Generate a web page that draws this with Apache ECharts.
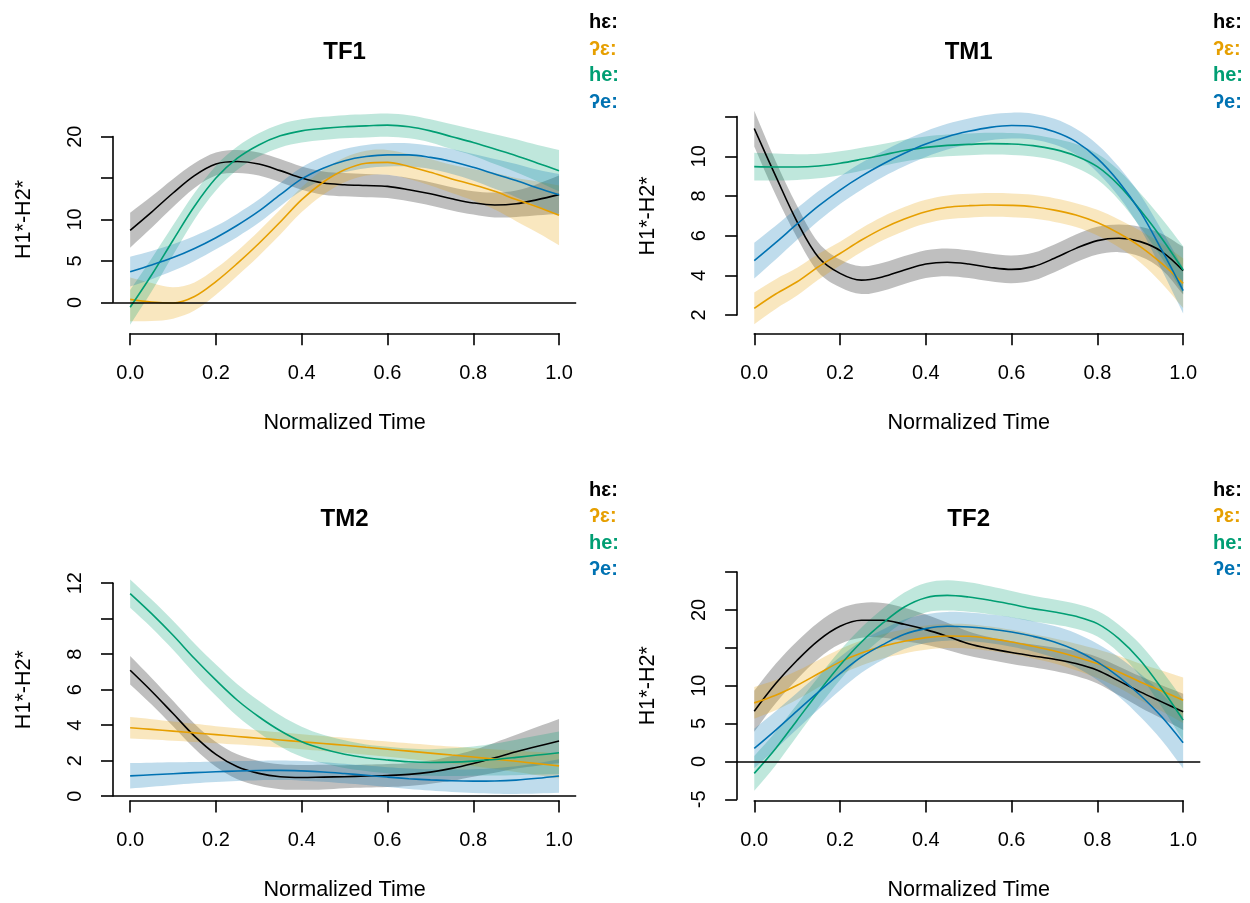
<!DOCTYPE html>
<html>
<head>
<meta charset="utf-8">
<script src="https://cdn.jsdelivr.net/npm/echarts@6/dist/echarts.min.js"></script>
<style>
html,body{margin:0;padding:0;background:#ffffff;}
#chart{width:1250px;height:903px;}
</style>
</head>
<body>
<div id="chart"></div>
<script>
// ---------------- DATA ----------------
const timePoints = [0,0.05,0.1,0.15,0.2,0.25,0.3,0.35,0.4,0.45,0.5,0.55,0.6,0.65,0.7,0.75,0.8,0.85,0.9,0.95,1];
const groupNames = ['hɛ:', 'ʔɛ:', 'he:', 'ʔe:'];
const groupColors = ['#000000', '#E69F00', '#009E73', '#0072B2'];
const bandColors = ['rgba(0,0,0,0.25)', 'rgba(230,159,0,0.25)', 'rgba(0,158,115,0.25)', 'rgba(0,114,178,0.25)'];
const panelTitles = ['TF1', 'TM1', 'TM2', 'TF2'];
const xTickValues = [0, 0.2, 0.4, 0.6, 0.8, 1.0];
const xTickLabels = ['0.0', '0.2', '0.4', '0.6', '0.8', '1.0'];
const yAxisName = 'H1*-H2*';
const xAxisName = 'Normalized Time';

const TF1_yTicks = [0, 5, 10, 15, 20];
const TF1_yLabels = ['0', '5', '10', '', '20'];
const TM1_yTicks = [2, 4, 6, 8, 10, 12];
const TM1_yLabels = ['2', '4', '6', '8', '10', ''];
const TM2_yTicks = [0, 2, 4, 6, 8, 10, 12];
const TM2_yLabels = ['0', '2', '4', '6', '8', '', '12'];
const TF2_yTicks = [-5, 0, 5, 10, 15, 20, 25];
const TF2_yLabels = ['-5', '0', '5', '10', '', '20', ''];

// TF1
const TF1_hE_fit = [8.7,10.9,13.2,15.3,16.7,17.0,16.7,15.9,15.0,14.4,14.2,14.1,14.0,13.6,13.1,12.5,12.0,11.75,11.9,12.4,13.0];
const TF1_hE_lo  = [6.6,9.0,11.5,13.8,15.3,15.6,15.3,14.5,13.6,13.0,12.8,12.7,12.6,12.2,11.7,11.1,10.6,10.25,10.3,10.5,10.7];
const TF1_hE_hi  = [10.8,12.8,14.9,16.8,18.1,18.4,18.1,17.3,16.4,15.8,15.6,15.5,15.4,15.0,14.5,13.9,13.4,13.25,13.5,14.3,15.3];
const TF1_qE_fit = [0.36,0.04,-0.08,0.7,2.5,4.7,7.1,9.7,12.4,14.5,16.0,16.8,16.9,16.4,15.7,14.9,14.2,13.4,12.4,11.5,10.5];
const TF1_qE_lo  = [-2.3,-2.26,-1.98,-1.0,0.9,3.2,5.6,8.2,10.9,13.0,14.5,15.3,15.4,14.9,14.1,13.2,12.3,11.2,9.8,8.4,6.9];
const TF1_qE_hi  = [3.0,2.34,1.82,2.4,4.1,6.2,8.6,11.2,13.9,16.0,17.5,18.3,18.4,17.9,17.3,16.6,16.1,15.6,15.0,14.6,14.1];
const TF1_he_fit = [-0.6,3.3,7.5,11.6,15.0,17.4,19.0,20.1,20.7,21.0,21.2,21.3,21.4,21.2,20.7,20.0,19.3,18.5,17.7,16.8,15.9];
const TF1_he_lo  = [-2.7,1.3,5.7,10.0,13.5,16.0,17.6,18.7,19.3,19.6,19.8,19.9,20.0,19.8,19.3,18.5,17.7,16.7,15.7,14.6,13.4];
const TF1_he_hi  = [1.5,5.3,9.3,13.2,16.5,18.8,20.4,21.5,22.1,22.4,22.6,22.7,22.8,22.6,22.1,21.5,20.9,20.3,19.7,19.0,18.4];
const TF1_qe_fit = [3.7,4.5,5.4,6.5,7.8,9.3,11.0,13.0,14.9,16.2,17.1,17.6,17.8,17.8,17.5,17.0,16.3,15.5,14.7,13.8,13.0];
const TF1_qe_lo  = [1.9,2.8,3.8,5.0,6.4,7.9,9.6,11.6,13.5,14.8,15.7,16.2,16.4,16.4,16.1,15.5,14.7,13.7,12.7,11.6,10.5];
const TF1_qe_hi  = [5.5,6.2,7.0,8.0,9.2,10.7,12.4,14.4,16.3,17.6,18.5,19.0,19.2,19.2,18.9,18.5,17.9,17.3,16.7,16.0,15.5];

// TM1
const TM1_hE_fit = [11.4,9.0,6.7,4.9,4.1,3.76,3.93,4.27,4.57,4.66,4.57,4.4,4.3,4.44,4.86,5.36,5.75,5.87,5.7,5.2,4.24];
const TM1_hE_lo  = [10.5,8.05,5.9,4.15,3.4,3.06,3.23,3.57,3.87,3.96,3.87,3.7,3.6,3.74,4.16,4.66,5.05,5.17,4.95,4.3,3.04];
const TM1_hE_hi  = [12.3,9.75,7.5,5.65,4.8,4.46,4.63,4.97,5.27,5.36,5.27,5.1,5.0,5.14,5.56,6.06,6.45,6.57,6.45,6.1,5.44];
const TM1_qE_fit = [2.34,3.06,3.68,4.44,5.1,5.78,6.37,6.84,7.21,7.43,7.51,7.55,7.53,7.46,7.29,7.04,6.66,6.12,5.45,4.6,3.6];
const TM1_qE_lo  = [1.54,2.31,2.98,3.79,4.5,5.18,5.77,6.24,6.61,6.83,6.91,6.95,6.93,6.86,6.69,6.44,6.01,5.42,4.65,3.6,2.35];
const TM1_qE_hi  = [3.14,3.81,4.38,5.09,5.7,6.38,6.97,7.44,7.81,8.03,8.11,8.15,8.13,8.06,7.89,7.64,7.31,6.82,6.25,5.6,4.85];
const TM1_he_fit = [9.48,9.46,9.46,9.51,9.65,9.85,10.07,10.29,10.45,10.55,10.6,10.64,10.62,10.54,10.35,10.02,9.48,8.55,7.29,5.87,4.27];
const TM1_he_lo  = [8.78,8.78,8.81,8.89,9.05,9.27,9.52,9.74,9.9,10.0,10.05,10.09,10.07,9.99,9.8,9.42,8.83,7.8,6.44,4.87,3.07];
const TM1_he_hi  = [10.18,10.14,10.11,10.13,10.25,10.43,10.62,10.84,11.0,11.1,11.15,11.19,11.17,11.09,10.9,10.62,10.13,9.3,8.14,6.87,5.47];
const TM1_qe_fit = [4.74,5.65,6.59,7.5,8.3,9.0,9.61,10.15,10.62,10.99,11.26,11.46,11.55,11.5,11.24,10.74,9.9,8.72,7.21,5.28,3.23];
const TM1_qe_lo  = [3.84,4.8,5.79,6.75,7.6,8.32,8.96,9.5,9.97,10.34,10.61,10.81,10.9,10.85,10.59,10.09,9.2,7.97,6.36,4.28,2.08];
const TM1_qe_hi  = [5.64,6.5,7.39,8.25,9.0,9.68,10.26,10.8,11.27,11.64,11.91,12.11,12.2,12.15,11.89,11.39,10.6,9.47,8.06,6.28,4.38];

// TM2
const TM2_hE_fit = [7.09,5.91,4.65,3.38,2.35,1.65,1.28,1.09,1.05,1.07,1.09,1.13,1.16,1.22,1.35,1.56,1.84,2.16,2.5,2.81,3.1];
const TM2_hE_lo  = [6.29,5.16,3.93,2.68,1.65,0.95,0.58,0.39,0.35,0.37,0.44,0.48,0.51,0.57,0.7,0.86,1.09,1.31,1.55,1.71,1.85];
const TM2_hE_hi  = [7.89,6.66,5.37,4.08,3.05,2.35,1.98,1.79,1.75,1.77,1.74,1.78,1.81,1.87,2.0,2.26,2.59,3.01,3.45,3.91,4.35];
const TM2_qE_fit = [3.85,3.76,3.66,3.56,3.46,3.36,3.26,3.16,3.06,2.96,2.86,2.75,2.64,2.53,2.42,2.31,2.2,2.08,1.96,1.83,1.7];
const TM2_qE_lo  = [3.25,3.19,3.12,3.05,2.98,2.9,2.82,2.73,2.64,2.54,2.44,2.33,2.21,2.09,1.96,1.83,1.69,1.53,1.36,1.18,1.0];
const TM2_qE_hi  = [4.45,4.33,4.2,4.07,3.94,3.82,3.7,3.59,3.48,3.38,3.28,3.17,3.07,2.97,2.88,2.79,2.71,2.63,2.56,2.48,2.4];
const TM2_he_fit = [11.41,10.28,9.06,7.75,6.53,5.4,4.47,3.68,3.06,2.65,2.36,2.16,2.03,1.93,1.89,1.91,1.97,2.06,2.18,2.31,2.44];
const TM2_he_lo  = [10.61,9.48,8.24,6.9,5.65,4.5,3.57,2.8,2.21,1.85,1.58,1.41,1.28,1.18,1.14,1.13,1.15,1.16,1.18,1.21,1.24];
const TM2_he_hi  = [12.21,11.08,9.88,8.6,7.41,6.3,5.37,4.56,3.91,3.45,3.14,2.91,2.78,2.68,2.64,2.69,2.79,2.96,3.18,3.41,3.64];
const TM2_qe_fit = [1.14,1.2,1.26,1.32,1.37,1.41,1.44,1.45,1.42,1.36,1.27,1.17,1.07,0.98,0.91,0.86,0.84,0.85,0.9,1.0,1.13];
const TM2_qe_lo  = [0.42,0.52,0.62,0.72,0.79,0.85,0.89,0.9,0.87,0.81,0.72,0.62,0.51,0.4,0.31,0.23,0.17,0.13,0.12,0.14,0.18];
const TM2_qe_hi  = [1.86,1.88,1.9,1.92,1.95,1.97,1.99,2.0,1.97,1.91,1.82,1.72,1.63,1.56,1.51,1.49,1.51,1.57,1.68,1.86,2.08];

// TF2
const TF2_hE_fit = [6.63,10.28,13.36,15.99,17.84,18.63,18.63,18.1,17.4,16.52,15.55,14.89,14.37,13.93,13.49,12.92,12.04,10.63,9.18,7.86,6.55];
const TF2_hE_lo  = [3.93,7.68,10.86,13.59,15.49,16.33,16.33,15.9,15.4,14.72,13.95,13.39,12.87,12.43,11.94,11.27,10.29,8.73,7.13,5.66,4.15];
const TF2_hE_hi  = [9.33,12.88,15.86,18.39,20.19,20.93,20.93,20.3,19.4,18.32,17.15,16.39,15.87,15.43,15.04,14.57,13.79,12.53,11.23,10.06,8.95];
const TF2_qE_fit = [7.73,8.74,10.06,11.6,13.14,14.32,15.2,15.86,16.34,16.56,16.52,16.21,15.77,15.2,14.59,13.8,12.92,11.82,10.5,9.31,8.08];
const TF2_qE_lo  = [5.63,6.74,8.16,9.8,11.44,12.67,13.6,14.26,14.74,14.96,14.92,14.61,14.17,13.6,12.94,12.05,11.02,9.72,8.1,6.61,5.08];
const TF2_qE_hi  = [9.83,10.74,11.96,13.4,14.84,15.97,16.8,17.46,17.94,18.16,18.12,17.81,17.37,16.8,16.24,15.55,14.82,13.92,12.9,12.01,11.08];
const TF2_he_fit = [-1.58,1.71,5.45,9.18,12.7,15.77,18.28,20.39,21.62,21.92,21.7,21.27,20.74,20.17,19.73,19.16,18.19,16.21,13.36,9.62,5.45];
const TF2_he_lo  = [-3.88,-0.49,3.35,7.18,10.75,13.87,16.38,18.49,19.67,19.92,19.75,19.42,18.99,18.47,18.08,17.51,16.49,14.36,11.26,7.22,2.75];
const TF2_he_hi  = [0.72,3.91,7.55,11.18,14.65,17.67,20.18,22.29,23.57,23.92,23.65,23.12,22.49,21.87,21.38,20.81,19.89,18.06,15.46,12.02,8.15];
const TF2_qe_fit = [1.71,4.13,6.68,9.18,11.6,13.8,15.42,16.78,17.53,17.84,17.75,17.49,17.09,16.52,15.77,14.67,13.14,11.16,8.74,5.89,2.46];
const TF2_qe_lo  = [-0.89,1.63,4.28,6.88,9.4,11.7,13.42,14.83,15.63,15.94,15.85,15.59,15.14,14.52,13.67,12.42,10.74,8.56,5.89,2.79,-0.94];
const TF2_qe_hi  = [4.31,6.63,9.08,11.48,13.8,15.9,17.42,18.73,19.43,19.74,19.65,19.39,19.04,18.52,17.87,16.92,15.54,13.76,11.59,8.99,5.86];

// ---------------- ASSEMBLY ----------------
const panelData = [
  { fit: [TF1_hE_fit, TF1_qE_fit, TF1_he_fit, TF1_qe_fit], lo: [TF1_hE_lo, TF1_qE_lo, TF1_he_lo, TF1_qe_lo], hi: [TF1_hE_hi, TF1_qE_hi, TF1_he_hi, TF1_qe_hi], yTicks: TF1_yTicks, yLabels: TF1_yLabels },
  { fit: [TM1_hE_fit, TM1_qE_fit, TM1_he_fit, TM1_qe_fit], lo: [TM1_hE_lo, TM1_qE_lo, TM1_he_lo, TM1_qe_lo], hi: [TM1_hE_hi, TM1_qE_hi, TM1_he_hi, TM1_qe_hi], yTicks: TM1_yTicks, yLabels: TM1_yLabels },
  { fit: [TM2_hE_fit, TM2_qE_fit, TM2_he_fit, TM2_qe_fit], lo: [TM2_hE_lo, TM2_qE_lo, TM2_he_lo, TM2_qe_lo], hi: [TM2_hE_hi, TM2_qE_hi, TM2_he_hi, TM2_qe_hi], yTicks: TM2_yTicks, yLabels: TM2_yLabels },
  { fit: [TF2_hE_fit, TF2_qE_fit, TF2_he_fit, TF2_qe_fit], lo: [TF2_hE_lo, TF2_qE_lo, TF2_he_lo, TF2_qe_lo], hi: [TF2_hE_hi, TF2_qE_hi, TF2_he_hi, TF2_qe_hi], yTicks: TF2_yTicks, yLabels: TF2_yLabels }
];

// layout (pixels) of each panel's plot region
const layout = [
  { left: 113,   top: 97,  height: 236.3, ymin: -3.74, ymax: 24.79, legendLeft: 584,  legendTop: 12.6, zero: true },
  { left: 737.1, top: 97,  height: 236.3, ymin: 1.08,  ymax: 12.99, legendLeft: 1208, legendTop: 12.6, zero: false },
  { left: 113,   top: 564.5, height: 236.0, ymin: -0.25, ymax: 13.05, legendLeft: 584,  legendTop: 480, zero: true },
  { left: 737.1, top: 564.5, height: 236.0, ymin: -5.16, ymax: 26.0,  legendLeft: 1208, legendTop: 480, zero: true }
];
const plotWidth = 463.2;
const xPad = 0.04;
const FONT = '"Liberation Sans", Arial, Helvetica, sans-serif';
const SMOOTH = 0.35;
const NAME_SIZE = 21.6;

const grid = [], xAxis = [], yAxis = [], series = [], title = [], legend = [];

layout.forEach((L, p) => {
  const pd = panelData[p];
  const yPx = v => L.top + (L.ymax - v) / (L.ymax - L.ymin) * L.height;
  const bottom = L.top + L.height;
  const xScale = plotWidth / (1 + 2 * xPad);
  const x0px = L.left + xPad * xScale;
  const yTickMin = pd.yTicks[0], yTickMax = pd.yTicks[pd.yTicks.length - 1];
  const gi = p * 3;

  // data grid
  grid.push({ left: L.left, top: L.top, width: plotWidth, height: L.height, containLabel: false });
  xAxis.push({ gridIndex: gi, type: 'value', min: -xPad, max: 1 + xPad, show: false });
  yAxis.push({ gridIndex: gi, type: 'value', min: L.ymin, max: L.ymax, show: false });

  // y axis display grid
  const yTop = yPx(yTickMax), yBot = yPx(yTickMin);
  grid.push({ left: L.left, top: yTop, width: 10, height: yBot - yTop, containLabel: false });
  xAxis.push({ gridIndex: gi + 1, type: 'value', show: false, min: 0, max: 1 });
  yAxis.push({
    gridIndex: gi + 1, type: 'value', min: yTickMin, max: yTickMax,
    interval: pd.yTicks[1] - pd.yTicks[0],
    axisLine: { show: true, lineStyle: { color: '#000', width: 1.6 } },
    axisTick: { show: true, length: 12, lineStyle: { color: '#000', width: 1.6 } },
    splitLine: { show: false },
    axisLabel: {
      rotate: 90, margin: 28, color: '#000', fontSize: 20, fontFamily: FONT, lineHeight: 20,
      formatter: v => { const i = pd.yTicks.findIndex(t => Math.abs(t - v) < 1e-9); return i >= 0 ? pd.yLabels[i] : ''; }
    },
    name: yAxisName, nameLocation: 'middle', nameRotate: 90, nameGap: 78,
    nameTextStyle: { color: '#000', fontSize: NAME_SIZE, fontFamily: FONT, lineHeight: 22 }
  });

  // x axis display grid
  grid.push({ left: x0px, top: bottom - 10, width: xScale, height: 10, containLabel: false });
  xAxis.push({
    gridIndex: gi + 2, type: 'value', min: 0, max: 1, interval: 0.2, position: 'bottom',
    axisLine: { show: true, lineStyle: { color: '#000', width: 1.6 } },
    axisTick: { show: true, length: 12, lineStyle: { color: '#000', width: 1.6 } },
    splitLine: { show: false },
    axisLabel: {
      margin: 30, color: '#000', fontSize: 20, fontFamily: FONT, lineHeight: 20,
      formatter: v => { const i = xTickValues.findIndex(t => Math.abs(t - v) < 1e-9); return i >= 0 ? xTickLabels[i] : ''; }
    },
    name: xAxisName, nameLocation: 'middle', nameGap: 79,
    nameTextStyle: { color: '#000', fontSize: NAME_SIZE, fontFamily: FONT, lineHeight: 22 }
  });
  yAxis.push({ gridIndex: gi + 2, type: 'value', show: false, min: 0, max: 1 });

  // title
  title.push({
    text: panelTitles[p], left: L.left + plotWidth / 2, top: L.top - 56.7, textAlign: 'center', padding: 0,
    textStyle: { color: '#000', fontSize: 24, fontWeight: 'bold', fontFamily: FONT, lineHeight: 24 }
  });

  // legend
  legend.push({
    left: L.legendLeft, top: L.legendTop, orient: 'vertical', padding: 0, itemGap: 6.5,
    itemWidth: 0, itemHeight: 0, icon: 'rect', selectedMode: false,
    textStyle: { fontSize: 20, fontWeight: 'bold', fontFamily: FONT, lineHeight: 20 },
    data: groupNames.map((n, g) => ({ name: n, textStyle: { color: groupColors[g] } }))
  });

  // series: band + line per group
  groupNames.forEach((name, g) => {
    const rows = timePoints.map((t, i) => [t, pd.lo[g][i], pd.hi[g][i]]);
    series.push({
      type: 'custom', name: name + ' CI', xAxisIndex: gi, yAxisIndex: gi, silent: true, clip: true,
      encode: { x: 0, y: [1, 2] },
      data: rows,
      renderItem: (params, api) => {
        if (params.dataIndexInside !== 0) return null;
        const n = params.dataInsideLength;
        const upper = [], lower = [];
        for (let j = 0; j < n; j++) {
          upper.push(api.coord([api.value(0, j), api.value(2, j)]));
          lower.push(api.coord([api.value(0, j), api.value(1, j)]));
        }
        lower.reverse();
        // duplicate the end points so that the ends stay square while the sides are smooth
        const pts = [upper[0]].concat(upper, [upper[n - 1]], [lower[0]], lower, [lower[n - 1]]);
        return {
          type: 'polygon',
          shape: { points: pts, smooth: SMOOTH },
          style: { fill: bandColors[g], stroke: null }
        };
      }
    });
    const lineSeries = {
      type: 'line', name: name, xAxisIndex: gi, yAxisIndex: gi, smooth: SMOOTH,
      symbol: 'none', silent: true, clip: true,
      color: groupColors[g],
      lineStyle: { color: groupColors[g], width: 1.6 },
      data: timePoints.map((t, i) => [t, pd.fit[g][i]])
    };
    if (g === groupNames.length - 1 && L.zero) {
      lineSeries.markLine = {
        silent: true, symbol: ['none', 'none'], animation: false,
        label: { show: false },
        lineStyle: { color: '#000', width: 1.6, type: 'solid' },
        emphasis: { disabled: true },
        data: [{ yAxis: 0 }]
      };
    }
    series.push(lineSeries);
  });
});

const chart = echarts.init(document.getElementById('chart'), null, { renderer: 'canvas' });
chart.setOption({
  animation: false,
  backgroundColor: '#ffffff',
  textStyle: { fontFamily: FONT },
  title, legend, grid, xAxis, yAxis, series
});
</script>
</body>
</html>
